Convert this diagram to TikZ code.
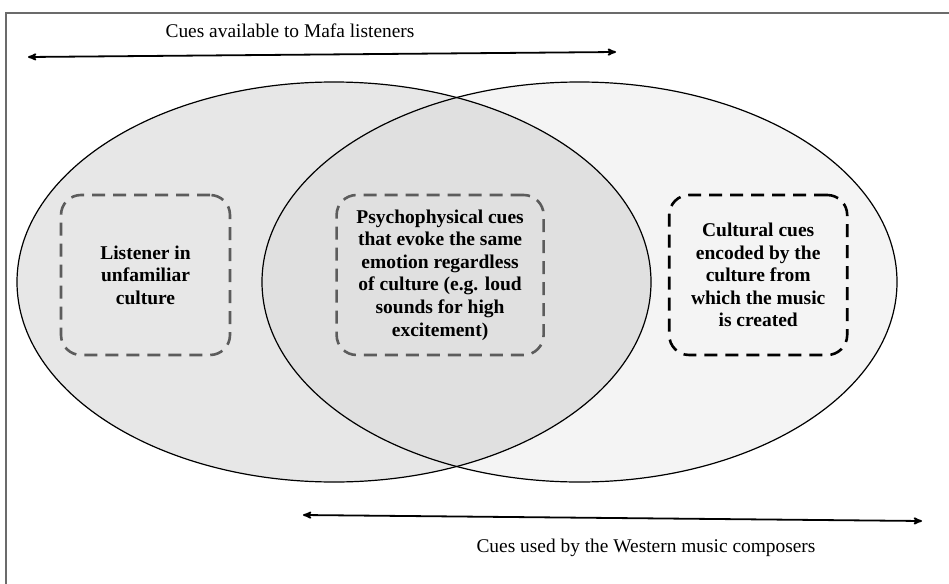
\documentclass[tikz,border=0pt]{standalone}
\usepackage{fontspec}
\setmainfont{Liberation Serif}
\usetikzlibrary{arrows,positioning}
\definecolor{leftfill}{gray}{0.905}
\definecolor{rightfill}{gray}{0.955}
\definecolor{bothfill}{gray}{0.88}
\definecolor{framegray}{gray}{0.42}
\definecolor{dashgray}{gray}{0.36}

\begin{document}
\begin{tikzpicture}[x=1pt,y=-1pt,>=stealth',
	cuebox/.style={draw,rounded corners=20pt,line width=2.6pt,dash pattern=on 13pt off 8pt,
		minimum height=160pt,inner sep=0pt,align=center,
		font=\bfseries\fontsize{19.5}{22.6}\selectfont},
	cuelabel/.style={font=\fontsize{19.4}{23}\selectfont},
	span/.style={<->,line width=1.8pt}]
		\fill[white] (0,0) rectangle (949,583);
		\clip (0,0) rectangle (949,583);
		\draw[framegray,line width=2pt] (6,13) rectangle (990,620);

		% the two sets of cues
		\fill[rightfill] (579.5,282) ellipse [x radius=317.5,y radius=200];
		\fill[leftfill] (334,282) ellipse [x radius=317,y radius=200];
		\begin{scope}
			\clip (334,282) ellipse [x radius=317,y radius=200];
			\fill[bothfill] (579.5,282) ellipse [x radius=317.5,y radius=200];
		\end{scope}
		\draw[line width=1.2pt] (334,282) ellipse [x radius=317,y radius=200];
		\draw[line width=1.2pt] (579.5,282) ellipse [x radius=317.5,y radius=200];

		\node[cuebox,dashgray,text=black,minimum width=169pt] (listener) at (145.5,275)
			{Listener in\\unfamiliar\\culture};
		\node[cuebox,dashgray,text=black,minimum width=207pt] (psycho) [right=104pt of listener]
			{Psychophysical cues\\that evoke the same\\emotion regardless\\of culture (e.g. loud\\sounds for high\\excitement)};
		\node[cuebox,minimum width=178pt] (cultural) [right=123pt of psycho]
			{Cultural cues\\encoded by the\\culture from\\which the music\\is created};

		\node[cuelabel] (mafa) at (290,31) {Cues available to Mafa listeners};
		\coordinate (mafaL) at (28,57);
		\coordinate (mafaR) at (616,52);
		\node[cuelabel] (western) at (646,548) {Cues used by the Western music composers};
		\coordinate (westL) at (303,515);
		\coordinate (westR) at (922,521);

		\draw[span] (mafaL) -- (mafaR);
		\draw[span] (westL) -- (westR);
	\end{tikzpicture}
\end{document}
